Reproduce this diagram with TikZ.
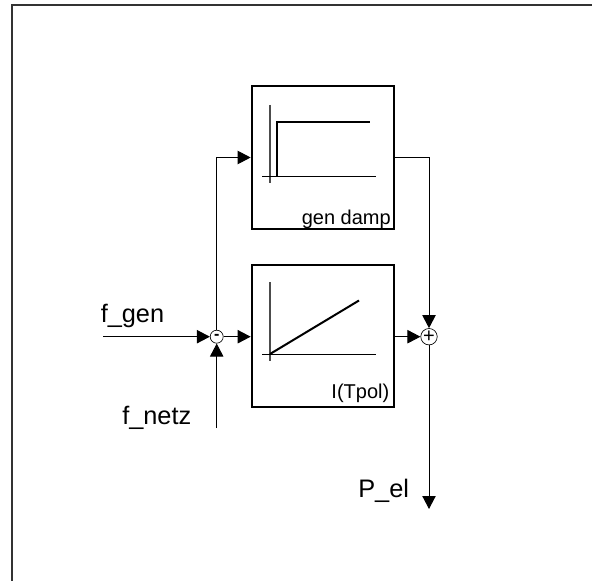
\documentclass[tikz,border=0pt]{standalone}
\usepackage{fontspec}
\setmainfont{Liberation Sans}
\usetikzlibrary{arrows.meta}
\definecolor{linegray}{gray}{0.2}
\tikzset{
  x=0.75pt,y=-0.75pt,
  frame/.style={draw=linegray,line width=1.5pt},
  blockbox/.style={draw=black,line width=1.5pt,minimum width=107pt,minimum height=107pt,inner sep=0pt},
  wire/.style={draw=black,line width=0.75pt},
  arrowwire/.style={wire,-{Triangle[length=9.75pt,width=10pt,fill=black]}},
  axis/.style={draw=black!70,line width=0.9pt},
  thinaxis/.style={draw=black,line width=0.75pt},
  curve/.style={draw=black,line width=1.5pt},
  junction/.style={circle,draw=black,line width=0.5pt,minimum size=9.75pt,inner sep=0pt,fill=white},
  biglabel/.style={font=\fontsize{19}{19}\selectfont,inner sep=0pt,anchor=base west},
  smalllabel/.style={font=\fontsize{15}{15}\selectfont,inner sep=0pt,anchor=base east},
}
\begin{document}
\begin{tikzpicture}
\useasboundingbox (0,0) rectangle (592,581);
\draw[frame] (12,581) -- (12,5) -- (592,5);
\node[blockbox] (b1) at (323,157.5) {};
\node[blockbox] (b2) at (323,336) {};
\node[junction,font=\fontsize{12}{12}\selectfont\bfseries] (m) at (216.7,336.7) {-};
\node[junction,font=\fontsize{15}{15}\selectfont] (p) at (429,336.7) {+};
\coordinate (fgen) at (103,336.7);
\coordinate (fnetz) at (216.7,428);
\coordinate (pel) at (429,509);
\coordinate (c1) at (216.7,157.5);
\coordinate (c2) at (429,157.5);
\draw[arrowwire] (fgen) -- (m.west);
\draw[arrowwire] (fnetz) -- (m.south);
\draw[arrowwire] (m.east) -- (m.east -| b2.west);
\draw[wire] (m.north) -- (c1);
\draw[arrowwire] (c1) -- (b1.west);
\draw[wire] (b1.east) -- (c2);
\draw[arrowwire] (c2) -- (p.north);
\draw[arrowwire] (p.west -| b2.east) -- (p.west);
\draw[arrowwire] (p.south) -- (pel);
\draw[axis] (270,105) -- (270,183);
\draw[thinaxis] (262,176.5) -- (376,176.5);
\draw[curve] (277,176) -- (277,122) -- (370,122);
\draw[axis] (270,282) -- (270,361);
\draw[thinaxis] (262,354) -- (376,354);
\draw[curve] (270,354) -- (359,300.5);
\node[smalllabel] (t1) at (391,224) {gen damp};
\node[smalllabel] (t2) at (389.5,398) {I(Tpol)};
\node[biglabel] (fg) at (100.5,322.7) {f\_gen};
\node[biglabel] (fn) at (122,424) {f\_netz};
\node[biglabel] (pl) at (358,497.7) {P\_el};
\end{tikzpicture}
\end{document}
